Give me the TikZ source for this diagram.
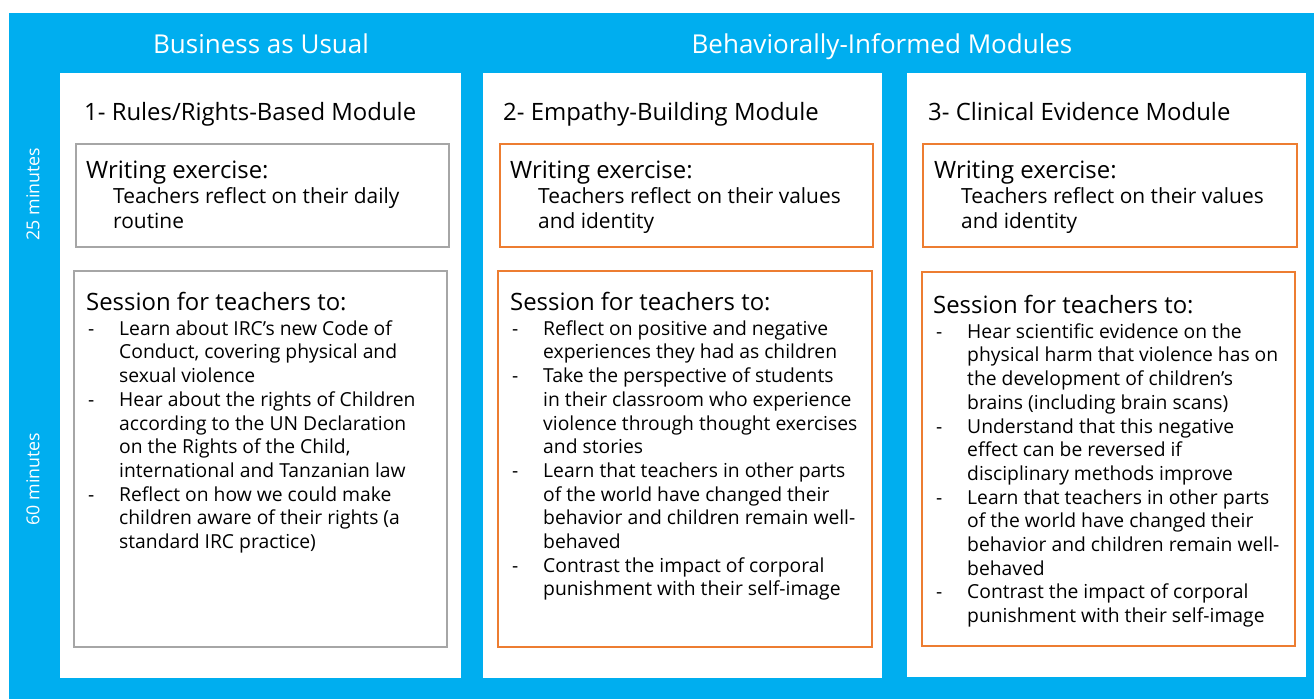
\documentclass[tikz,border=0pt]{standalone}
\usepackage{fontspec}
\setmainfont{Open Sans}
\definecolor{irccyan}{HTML}{00AEEF}
\definecolor{boxorange}{HTML}{ED7D31}
\definecolor{boxgray}{HTML}{A6A6A6}
\newcommand{\dashitem}{\makebox[31pt][l]{-}}
\newcommand{\indline}{\hspace*{31pt}}
\newcommand{\topstrut}{\rule{0pt}{19pt}}
\tikzset{
  panel/.style={fill=white, anchor=north west, inner sep=0pt},
  grayframe/.style={draw=boxgray, line width=1.6pt, anchor=north west, inner sep=0pt},
  orangeframe/.style={draw=boxorange, line width=1.6pt, anchor=north west, inner sep=0pt},
  headtext/.style={text=white, anchor=base, inner sep=0pt, font=\fontsize{26}{30}\selectfont},
  timetext/.style={text=white, rotate=90, inner sep=0pt, font=\fontsize{17.8}{20}\selectfont},
  modtitle/.style={anchor=base west, inner sep=0pt, font=\fontsize{23.9}{27}\selectfont},
  boxhead/.style={anchor=base west, inner sep=0pt, font=\fontsize{23.9}{27}\selectfont},
  boxbody/.style={anchor=north west, align=left, inner sep=0pt, font=\fontsize{19.3}{23.7}\selectfont},
  writebody/.style={boxbody, font=\fontsize{20.9}{25.5}\selectfont},
}
\begin{document}
\begin{tikzpicture}[x=1pt, y=-1pt]
  \useasboundingbox (0,0) rectangle (1314,699);
  % Background
  \fill[irccyan] (9,13) rectangle (1314,699);

  % Headers and timing
  \node[headtext] (BAU) at (261,53) {Business as Usual};
  \node[headtext] (BIM) at (882,53) {Behaviorally-Informed Modules};
  \node[timetext] (T25) at (33,194) {25 minutes};
  \node[timetext] (T60) at (33,479) {60 minutes};

  % Module panels
  \node[panel, minimum width=401, minimum height=605] (M1) at (60,73) {};
  \node[panel, minimum width=399, minimum height=605] (M2) at (483,73) {};
  \node[panel, minimum width=399, minimum height=604] (M3) at (907,73) {};

  % Module 1
  \node[modtitle] (N1) at (84,120) {1- Rules/Rights-Based Module};
  \node[grayframe, minimum width=373, minimum height=103] (W1) at (75,143) {};
  \node[boxhead] (WH1) at (86,178) {Writing exercise:};
  \node[writebody] (WB1) at (113,184) {\topstrut Teachers reflect on their daily\\ routine};
  \node[grayframe, minimum width=373, minimum height=376] (S1) at (73,270) {};
  \node[boxhead] (SH1) at (86,310) {Session for teachers to:};
  \node[boxbody] (SB1) at (88,316) {\topstrut\dashitem Learn about IRC’s new Code of\\
    \indline Conduct, covering physical and\\
    \indline sexual violence\\
    \dashitem Hear about the rights of Children\\
    \indline according to the UN Declaration\\
    \indline on the Rights of the Child,\\
    \indline international and Tanzanian law\\
    \dashitem Reflect on how we could make\\
    \indline children aware of their rights (a\\
    \indline standard IRC practice)};

  % Module 2
  \node[modtitle] (N2) at (503,120) {2- Empathy-Building Module};
  \node[orangeframe, minimum width=373, minimum height=103] (W2) at (499,143) {};
  \node[boxhead] (WH2) at (510,178) {Writing exercise:};
  \node[writebody] (WB2) at (538,184) {\topstrut Teachers reflect on their values\\ and identity};
  \node[orangeframe, minimum width=374, minimum height=376] (S2) at (497,270) {};
  \node[boxhead] (SH2) at (510,310) {Session for teachers to:};
  \node[boxbody] (SB2) at (512,316) {\topstrut\dashitem Reflect on positive and negative\\
    \indline experiences they had as children\\
    \dashitem Take the perspective of students\\
    \indline in their classroom who experience\\
    \indline violence through thought exercises\\
    \indline and stories\\
    \dashitem Learn that teachers in other parts\\
    \indline of the world have changed their\\
    \indline behavior and children remain well-\\
    \indline behaved\\
    \dashitem Contrast the impact of corporal\\
    \indline punishment with their self-image};

  % Module 3
  \node[modtitle] (N3) at (928,120) {3- Clinical Evidence Module};
  \node[orangeframe, minimum width=374, minimum height=103] (W3) at (922,143) {};
  \node[boxhead] (WH3) at (934,178) {Writing exercise:};
  \node[writebody] (WB3) at (961,184) {\topstrut Teachers reflect on their values\\ and identity};
  \node[orangeframe, minimum width=373, minimum height=374] (S3) at (921,271) {};
  \node[boxhead] (SH3) at (933,313) {Session for teachers to:};
  \node[boxbody] (SB3) at (936,319) {\topstrut\dashitem Hear scientific evidence on the\\
    \indline physical harm that violence has on\\
    \indline the development of children’s\\
    \indline brains (including brain scans)\\
    \dashitem Understand that this negative\\
    \indline effect can be reversed if\\
    \indline disciplinary methods improve\\
    \dashitem Learn that teachers in other parts\\
    \indline of the world have changed their\\
    \indline behavior and children remain well-\\
    \indline behaved\\
    \dashitem Contrast the impact of corporal\\
    \indline punishment with their self-image};
\end{tikzpicture}
\end{document}
